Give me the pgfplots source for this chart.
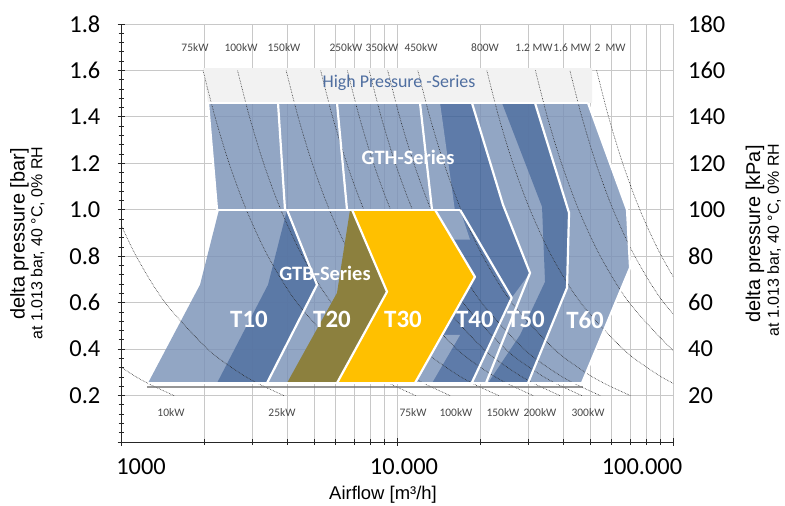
\documentclass[border=0pt]{standalone}
\usepackage{pgfplots}
\pgfplotsset{compat=1.18}
\usepackage{fontspec}
\setmainfont{Carlito}
\newfontfamily\arialf{Liberation Sans}
\definecolor{lb}{RGB}{122,146,183}
\definecolor{lb2}{RGB}{158,176,203}
\definecolor{db}{RGB}{58,94,150}
\definecolor{db2}{RGB}{80,112,160}
\definecolor{yel}{RGB}{255,192,0}
\definecolor{oli}{RGB}{140,128,62}
\definecolor{bandc}{RGB}{242,242,242}
\definecolor{hpblue}{RGB}{79,110,160}
\definecolor{gridc}{RGB}{200,200,200}
\tikzset{
  kwlab/.style={font=\fontsize{11.5}{12}\selectfont, text=black!72},
  tlab/.style={font=\bfseries\fontsize{25}{26}\selectfont, text=white},
}
\pgfplotsset{
  blue fill/.style={draw=none, fill=#1, fill opacity=0.82},
  wline/.style={white, line width=2.2bp, line join=round},
  pcurve/.style={black!85, line width=0.6bp, densely dotted, smooth},
}
\begin{document}
\begin{tikzpicture}
\begin{axis}[
  scale only axis, width=552bp, height=418bp,
  xmode=log, xmin=1000, xmax=100000,
  ymin=0, ymax=1.8,
  axis x line*=bottom, axis y line*=left,
  axis line style={black!85, line width=1bp},
  xtick={1000,10000,100000}, xticklabels={},
  ytick={0,0.2,0.4,0.6,0.8,1.0,1.2,1.4,1.6,1.8},
  yticklabels={{},0.2,0.4,0.6,0.8,1.0,1.2,1.4,1.6,1.8},
  minor y tick num=4,
  xmajorgrids, xminorgrids, ymajorgrids,
  major grid style={gridc, line width=0.8bp},
  minor grid style={gridc, line width=0.8bp},
  tick align=center,
  major tick length=7bp, minor tick length=5bp,
  tick style={black!85, line width=0.8bp},
  yticklabel style={font=\fontsize{24.5}{26}\selectfont, anchor=east, inner sep=0pt, xshift=-17bp},
]
% high pressure band
\addplot[draw=none, fill=bandc] coordinates {(1982,1.61) (50880,1.61) (50880,1.46) (2067,1.46)} -- cycle;
% T60
\addplot[blue fill=lb] coordinates {(31623,1.46) (49210,1.46) (68130,1.0) (69870,0.75) (46800,0.254) (29830,0.254) (41300,0.664) (42000,0.987)} -- cycle;
% T50
\addplot[blue fill=lb] coordinates {(18690,1.46) (31623,1.46) (42000,0.987) (41300,0.664) (29830,0.254) (21010,0.254) (30330,0.728) (24210,1.022)} -- cycle;
\addplot[blue fill=db2] coordinates {(24010,1.46) (31623,1.46) (42000,0.987) (41300,0.664) (29830,0.254) (21370,0.254) (27910,0.461) (34380,0.690) (33530,1.013)} -- cycle;
% T40
\addplot[blue fill=db] coordinates {(12115,1.46) (18690,1.46) (24210,1.022) (30330,0.728) (21010,0.254) (11145,0.254) (13390,1.0)} -- cycle;
\addplot[blue fill=lb2] coordinates {(12115,1.46) (14320,1.46) (16200,1.0) (13390,1.0)} -- cycle;
\addplot[blue fill=lb2] coordinates {(26040,0.621) (30330,0.728) (21010,0.254) (18650,0.254)} -- cycle;
\addplot[blue fill=lb2] coordinates {(13730,1.0) (16920,1.0) (18390,0.871) (15950,0.871)} -- cycle;
\addplot[blue fill=lb2] coordinates {(11620,0.254) (13390,0.254) (16920,0.461) (14680,0.461)} -- cycle;
% GTH blocks
\addplot[blue fill=lb] coordinates {(2067,1.46) (3706,1.46) (3929,1.0) (2228,1.0)} -- cycle;
\addplot[blue fill=lb] coordinates {(3706,1.46) (6062,1.46) (6590,1.0) (3929,1.0)} -- cycle;
\addplot[blue fill=lb] coordinates {(6062,1.46) (12115,1.46) (13390,1.0) (6590,1.0)} -- cycle;
% T20 and T10
\addplot[blue fill=lb] coordinates {(3995,1.0) (6872,1.0) (9200,0.647) (6062,0.254) (3381,0.254) (5130,0.677)} -- cycle;
\addplot[blue fill=lb] coordinates {(1253,0.254) (1933,0.677) (2265,1.0) (3995,1.0) (5130,0.677) (3381,0.254)} -- cycle;
\addplot[blue fill=db2] coordinates {(2228,0.254) (3409,0.677) (3995,1.0) (5130,0.677) (3381,0.254)} -- cycle;
% power curves
\addplot[pcurve] coordinates {(1556,0.2) (1264,0.25) (1069,0.3) (824,0.4) (578,0.6)};
\addplot[pcurve] coordinates {(3891,0.2) (3160,0.25) (2672,0.3) (2061,0.4) (1446,0.6) (1136,0.8) (948,1.0) (822,1.2)};
\addplot[pcurve] coordinates {(11672,0.2) (9479,0.25) (8015,0.3) (6182,0.4) (4338,0.6) (3408,0.8) (2845,1.0) (2465,1.2) (2191,1.4) (1983,1.6)};
\addplot[pcurve] coordinates {(15563,0.2) (12639,0.25) (10687,0.3) (8242,0.4) (5784,0.6) (4544,0.8) (3793,1.0) (3287,1.2) (2921,1.4) (2644,1.6)};
\addplot[pcurve] coordinates {(23345,0.2) (18959,0.25) (16031,0.3) (12363,0.4) (8676,0.6) (6816,0.8) (5690,1.0) (4931,1.2) (4382,1.4) (3966,1.6)};
\addplot[pcurve] coordinates {(31126,0.2) (25278,0.25) (21374,0.3) (16484,0.4) (11568,0.6) (9088,0.8) (7586,1.0) (6574,1.2) (5842,1.4) (5288,1.6)};
\addplot[pcurve] coordinates {(38908,0.2) (31598,0.25) (26718,0.3) (20605,0.4) (14460,0.6) (11360,0.8) (9483,1.0) (8218,1.2) (7303,1.4) (6610,1.6)};
\addplot[pcurve] coordinates {(46689,0.2) (37917,0.25) (32061,0.3) (24726,0.4) (17352,0.6) (13632,0.8) (11379,1.0) (9861,1.2) (8763,1.4) (7932,1.6)};
\addplot[pcurve] coordinates {(54471,0.2) (44237,0.25) (37405,0.3) (28847,0.4) (20244,0.6) (15904,0.8) (13276,1.0) (11505,1.2) (10224,1.4) (9254,1.6)};
\addplot[pcurve] coordinates {(70034,0.2) (56876,0.25) (48092,0.3) (37089,0.4) (26028,0.6) (20448,0.8) (17069,1.0) (14792,1.2) (13145,1.4) (11898,1.6)};
\addplot[pcurve] coordinates {(124504,0.2) (101112,0.25) (85496,0.3) (65936,0.4) (46272,0.6) (36352,0.8) (30344,1.0) (26296,1.2) (23368,1.4) (21152,1.6)};
\addplot[pcurve] coordinates {(151668,0.25) (128244,0.3) (98904,0.4) (69408,0.6) (54528,0.8) (45516,1.0) (39444,1.2) (35052,1.4) (31728,1.6)};
\addplot[pcurve] coordinates {(170992,0.3) (131872,0.4) (92544,0.6) (72704,0.8) (60688,1.0) (52592,1.2) (46736,1.4) (42304,1.6)};
\addplot[pcurve] coordinates {(164840,0.4) (115680,0.6) (90880,0.8) (75860,1.0) (65740,1.2) (58420,1.4) (52880,1.6)};
% T30 yellow and olive part of T20
\addplot[draw=none, fill=yel] coordinates {(6872,1.0) (13730,1.0) (19160,0.711) (11620,0.254) (6062,0.254) (9200,0.647)} -- cycle;
\addplot[draw=none, fill=oli] coordinates {(6757,1.0) (6872,1.0) (9200,0.647) (6062,0.254) (3995,0.254) (6062,0.642)} -- cycle;
% white borders
\addplot[wline] coordinates {(2067,1.46) (49210,1.46)};
\addplot[wline] coordinates {(2067,1.46) (2228,1.0)};
\addplot[wline] coordinates {(3706,1.46) (3929,1.0)};
\addplot[wline] coordinates {(6062,1.46) (6590,1.0)};
\addplot[wline] coordinates {(12115,1.46) (13390,1.0)};
\addplot[wline] coordinates {(2228,1.0) (16920,1.0)};
\addplot[wline] coordinates {(18690,1.46) (24210,1.022) (30330,0.728) (21010,0.254)};
\addplot[wline] coordinates {(16920,1.0) (26040,0.621) (18650,0.254)};
\addplot[wline] coordinates {(31623,1.46) (42000,0.987) (41300,0.664) (29830,0.254)};
\addplot[wline] coordinates {(49210,1.46) (68130,1.0) (69870,0.75) (46800,0.254)};
\addplot[wline] coordinates {(13730,1.0) (19160,0.711) (11620,0.254)};
\addplot[wline] coordinates {(6872,1.0) (9200,0.647) (6062,0.254)};
\addplot[wline] coordinates {(3995,1.0) (5130,0.677) (3381,0.254)};
\addplot[white, line width=1.2bp] coordinates {(1253,0.254) (46800,0.254)};
% shadow
\addplot[black!55, line width=2bp, opacity=0.75] coordinates {(1240,0.238) (47200,0.238)};
% labels
\node[kwlab] at (axis cs:1854,1.698) {75kW};
\node[kwlab] at (axis cs:2722,1.698) {100kW};
\node[kwlab] at (axis cs:3896,1.698) {150kW};
\node[kwlab] at (axis cs:6535,1.698) {250kW};
\node[kwlab] at (axis cs:8822,1.698) {350kW};
\node[kwlab] at (axis cs:12218,1.698) {450kW};
\node[kwlab] at (axis cs:20840,1.698) {800W};
\node[kwlab] at (axis cs:31360,1.698) {1.2 MW};
\node[kwlab] at (axis cs:43060,1.698) {1.6 MW};
\node[kwlab] at (axis cs:59120,1.698) {2\ \ MW};
\node[kwlab] at (axis cs:1517,0.125) {10kW};
\node[kwlab] at (axis cs:3831,0.125) {25kW};
\node[kwlab] at (axis cs:11430,0.125) {75kW};
\node[kwlab] at (axis cs:16360,0.125) {100kW};
\node[kwlab] at (axis cs:24210,0.125) {150kW};
\node[kwlab] at (axis cs:32970,0.125) {200kW};
\node[kwlab] at (axis cs:49210,0.125) {300kW};
\node[font=\fontsize{18}{20}\selectfont, text=hpblue] at (axis cs:10168,1.547) {High Pressure -Series};
\node[font=\bfseries\fontsize{20.5}{22}\selectfont, text=white] at (axis cs:10960,1.224) {GTH-Series};
\node[font=\bfseries\fontsize{20.5}{22}\selectfont, text=white] at (axis cs:5483,0.728) {GTB-Series};
\node[tlab] at (axis cs:2909,0.526) {T10};
\node[tlab] at (axis cs:5815,0.526) {T20};
\node[tlab] at (axis cs:10513,0.526) {T30};
\node[tlab] at (axis cs:19160,0.526) {T40};
\node[tlab] at (axis cs:29340,0.526) {T50};
\node[tlab] at (axis cs:48000,0.526) {T60};
\end{axis}
\begin{axis}[
  scale only axis, width=552bp, height=418bp,
  xmin=0, xmax=1, ymin=0, ymax=180,
  axis x line=none, axis y line*=right,
  y axis line style={draw=none},
  ytick={20,40,60,80,100,120,140,160,180},
  major tick length=0pt,
  /pgf/number format/assume math mode=true,
  yticklabel style={font=\fontsize{24.5}{26}\selectfont, anchor=west, inner sep=0pt, xshift=15bp},
]
\addplot[draw=none] coordinates {(0,0) (1,180)};
\end{axis}
% outer labels
\node[font=\fontsize{24.5}{26}\selectfont] at (20bp,-25bp) {1000};
\node[font=\fontsize{24.5}{26}\selectfont] at (283bp,-25bp) {10.000};
\node[font=\fontsize{24.5}{26}\selectfont] at (521bp,-25bp) {100.000};
\node[font=\arialf\fontsize{18.5}{20}\selectfont] at (262bp,-53bp) {Airflow [m³/h]};
\node[rotate=90, font=\arialf\fontsize{20}{22}\selectfont] at (-101.5bp,208bp) {delta pressure [bar]};
\node[rotate=90, font=\arialf\fontsize{16}{18}\selectfont] at (-83.5bp,199bp) {at 1.013 bar, 40 °C, 0\% RH};
\node[rotate=90, font=\arialf\fontsize{20}{22}\selectfont] at (634bp,208bp) {delta pressure [kPa]};
\node[rotate=90, font=\arialf\fontsize{16}{18}\selectfont] at (653bp,202bp) {at 1.013 bar, 40 °C, 0\% RH};
\pgfresetboundingbox
\path[use as bounding box] (-121bp,-64bp) rectangle (664bp,442bp);
\end{tikzpicture}
\end{document}
